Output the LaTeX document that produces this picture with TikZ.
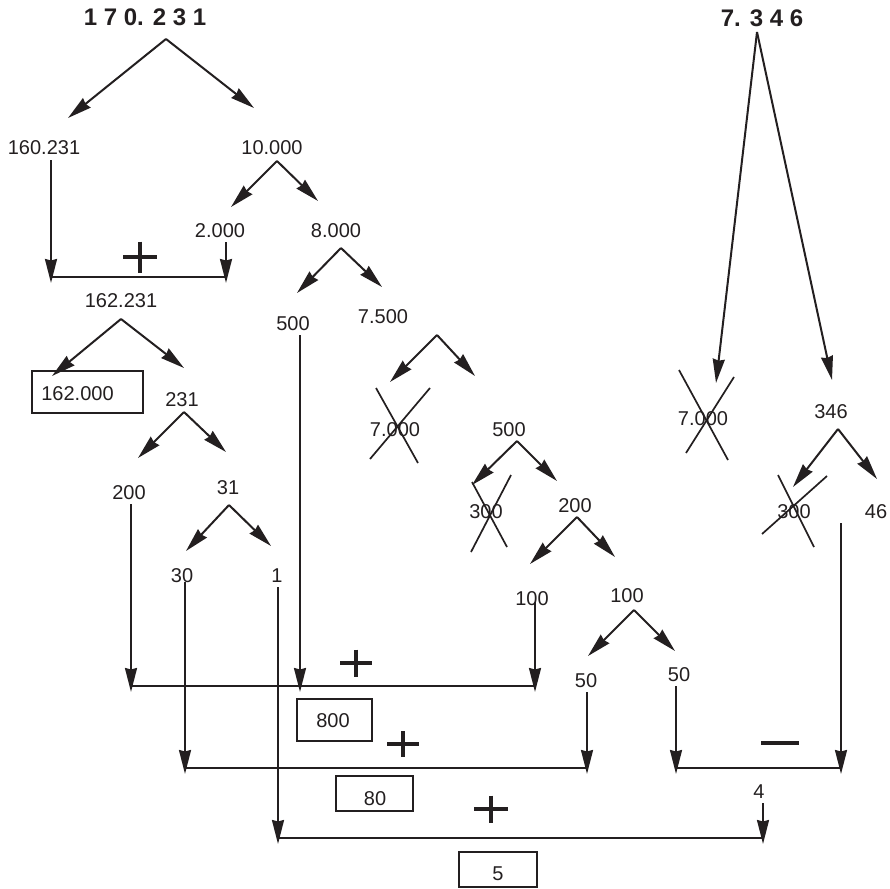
\documentclass[tikz,border=0pt]{standalone}
\usepackage{fontspec}
\setmainfont{Liberation Sans}
\usetikzlibrary{arrows.meta}
\definecolor{ink}{HTML}{231F20}
\begin{document}
\begin{tikzpicture}[x=1pt,y=-1pt, color=ink,
 num/.style={font=\fontsize{20}{24}\selectfont, inner sep=0pt, anchor=base, text=ink},
 bignum/.style={font=\fontsize{24}{28}\selectfont\bfseries, inner sep=0pt, anchor=base, text=ink},
 ln/.style={draw=ink, line width=2pt},
 arr/.style={ln, -{Stealth[length=24pt,width=12pt,inset=1.5pt]}},
 crossln/.style={draw=ink, line width=1.7pt},
 sgn/.style={draw=ink, line width=3.5pt},
 resbox/.style={draw=ink, line width=1.9pt, inner sep=0pt}]
\useasboundingbox (0,0) rectangle (890,888);

% ---------- texts ----------
\node[bignum] (n170) at (145,26) {1 7 0. 2 3 1};
\node[bignum] (n7346) at (762,27) {7. 3 4 6};
\node[num] (n160) at (44,154) {160.231};
\node[num] (n10) at (272,154) {10.000};
\node[num] (n2) at (220,237) {2.000};
\node[num] (n8) at (336,237) {8.000};
\node[num] (n162) at (121,307) {162.231};
\node[num] (n500a) at (293,330) {500};
\node[num] (n7500) at (383,323) {7.500};
\node[num] (n162k) at (77.5,400) {162.000};
\node[num] (n231) at (182,406) {231};
\node[num] (n7000a) at (395,436) {7.000};
\node[num] (n500b) at (509,436) {500};
\node[num] (n200a) at (129,499) {200};
\node[num] (n31) at (228,494) {31};
\node[num] (n300a) at (486,518) {300};
\node[num] (n200b) at (575,512) {200};
\node[num] (n30) at (182,582) {30};
\node[num] (n1) at (277,582) {1};
\node[num] (n100a) at (532,605) {100};
\node[num] (n100b) at (627,602) {100};
\node[num] (n50a) at (586,687) {50};
\node[num] (n50b) at (679,681) {50};
\node[num] (n800) at (333,727) {800};
\node[num] (n80) at (375,805) {80};
\node[num] (n4) at (759,798) {4};
\node[num] (n5) at (498,880) {5};
\node[num] (n7000b) at (703,425) {7.000};
\node[num] (n346) at (831,418) {346};
\node[num] (n300b) at (794,518) {300};
\node[num] (n46) at (876,518) {46};

% ---------- result boxes ----------
\node[resbox, minimum width=111pt, minimum height=42pt] (b162) at (87.5,392) {};
\node[resbox, minimum width=75pt, minimum height=42pt] (b800) at (334.5,720) {};
\node[resbox, minimum width=77pt, minimum height=35pt] (b80) at (374.5,793.5) {};
\node[resbox, minimum width=78pt, minimum height=35pt] (b5) at (498,869.5) {};

% ---------- branching arrows ----------
\coordinate (aA) at (166,39);  \coordinate (aAl) at (68,118);  \coordinate (aAr) at (254,108);
\coordinate (aB) at (277,161); \coordinate (aBl) at (231,207); \coordinate (aBr) at (318,201);
\coordinate (aC) at (341,248); \coordinate (aCl) at (297,293); \coordinate (aCr) at (382,287);
\coordinate (aD) at (121,319); \coordinate (aDl) at (52,376);  \coordinate (aDr) at (184,368);
\coordinate (aE) at (184,412); \coordinate (aEl) at (138,458); \coordinate (aEr) at (226,452);
\coordinate (aF) at (229,505); \coordinate (aFl) at (186,551); \coordinate (aFr) at (271,546);
\coordinate (aG) at (437,335); \coordinate (aGl) at (390,382); \coordinate (aGr) at (475,376);
\coordinate (aH) at (517,441); \coordinate (aHl) at (472,485); \coordinate (aHr) at (557,481);
\coordinate (aI) at (577,517); \coordinate (aIl) at (530,564); \coordinate (aIr) at (615,557);
\coordinate (aJ) at (634,610); \coordinate (aJl) at (588,656); \coordinate (aJr) at (675,651);
\coordinate (aK) at (757,32);  \coordinate (aKl) at (716,383); \coordinate (aKr) at (832,380);
\coordinate (aL) at (838,429); \coordinate (aLl) at (793,487); \coordinate (aLr) at (877,479);
\foreach \t in {A,B,C,D,E,F,G,H,I,J,K,L}{
  \draw[arr] (a\t) -- (a\t l);
  \draw[arr] (a\t) -- (a\t r);
}

% ---------- vertical connectors and sum lines ----------
\coordinate (s160) at (51,160);  \coordinate (e160) at (51,283);
\coordinate (s2) at (226,242);   \coordinate (e2) at (226,283);
\draw[arr] (s160) -- (e160);
\draw[arr] (s2) -- (e2);
\coordinate (h1a) at (51,277); \coordinate (h1b) at (226,277);
\draw[ln] (h1a) -- (h1b);

\coordinate (s200) at (131,504); \coordinate (e200) at (131,692);
\coordinate (s500) at (300,335); \coordinate (e500) at (300,692);
\coordinate (s100) at (535,602); \coordinate (e100) at (535,692);
\draw[arr] (s200) -- (e200);
\draw[arr] (s500) -- (e500);
\draw[arr] (s100) -- (e100);
\coordinate (h2a) at (131,686); \coordinate (h2b) at (535,686);
\draw[ln] (h2a) -- (h2b);

\coordinate (s30) at (185,582);  \coordinate (e30) at (185,774);
\coordinate (s50a) at (587,692); \coordinate (e50a) at (587,774);
\draw[arr] (s30) -- (e30);
\draw[arr] (s50a) -- (e50a);
\coordinate (h3a) at (185,768); \coordinate (h3b) at (587,768);
\draw[ln] (h3a) -- (h3b);

\coordinate (s50b) at (676,686); \coordinate (e50b) at (676,774);
\coordinate (s46) at (841,523);  \coordinate (e46) at (841,774);
\draw[arr] (s50b) -- (e50b);
\draw[arr] (s46) -- (e46);
\coordinate (h4a) at (676,768); \coordinate (h4b) at (841,768);
\draw[ln] (h4a) -- (h4b);

\coordinate (s1) at (278,587);  \coordinate (e1) at (278,844);
\coordinate (s4) at (763,803);  \coordinate (e4) at (763,844);
\draw[arr] (s1) -- (e1);
\draw[arr] (s4) -- (e4);
\coordinate (h5a) at (278,838); \coordinate (h5b) at (763,838);
\draw[ln] (h5a) -- (h5b);

% ---------- operation signs ----------
\coordinate (p1) at (140,257);
\draw[sgn] (p1) ++(-17,0) -- ++(34,0);
\draw[sgn] (p1) ++(0,-15.5) -- ++(0,31);
\coordinate (p2) at (356,663);
\draw[sgn] (p2) ++(-16,0) -- ++(32,0);
\draw[sgn] (p2) ++(0,-13.5) -- ++(0,27);
\coordinate (p3) at (403,744);
\draw[sgn] (p3) ++(-16,0) -- ++(32,0);
\draw[sgn] (p3) ++(0,-13) -- ++(0,26);
\coordinate (p4) at (491,809);
\draw[sgn] (p4) ++(-17,0) -- ++(34,0);
\draw[sgn] (p4) ++(0,-13.5) -- ++(0,27);
\coordinate (m1) at (780,743);
\draw[draw=ink, line width=4pt] (m1) ++(-19,0) -- ++(38,0);

% ---------- crossings-out ----------
\coordinate (x1a) at (376,388); \coordinate (x1b) at (418,463);
\coordinate (x1c) at (430,388); \coordinate (x1d) at (370,459);
\draw[crossln] (x1a) -- (x1b); \draw[crossln] (x1c) -- (x1d);
\coordinate (x2a) at (472,482); \coordinate (x2b) at (507,547);
\coordinate (x2c) at (511,475); \coordinate (x2d) at (471,552);
\draw[crossln] (x2a) -- (x2b); \draw[crossln] (x2c) -- (x2d);
\coordinate (x3a) at (679,370); \coordinate (x3b) at (728,460);
\coordinate (x3c) at (734,377); \coordinate (x3d) at (686,453);
\draw[crossln] (x3a) -- (x3b); \draw[crossln] (x3c) -- (x3d);
\coordinate (x4a) at (778,475); \coordinate (x4b) at (814,547);
\coordinate (x4c) at (827,476); \coordinate (x4d) at (762,534);
\draw[crossln] (x4a) -- (x4b); \draw[crossln] (x4c) -- (x4d);
\end{tikzpicture}
\end{document}
